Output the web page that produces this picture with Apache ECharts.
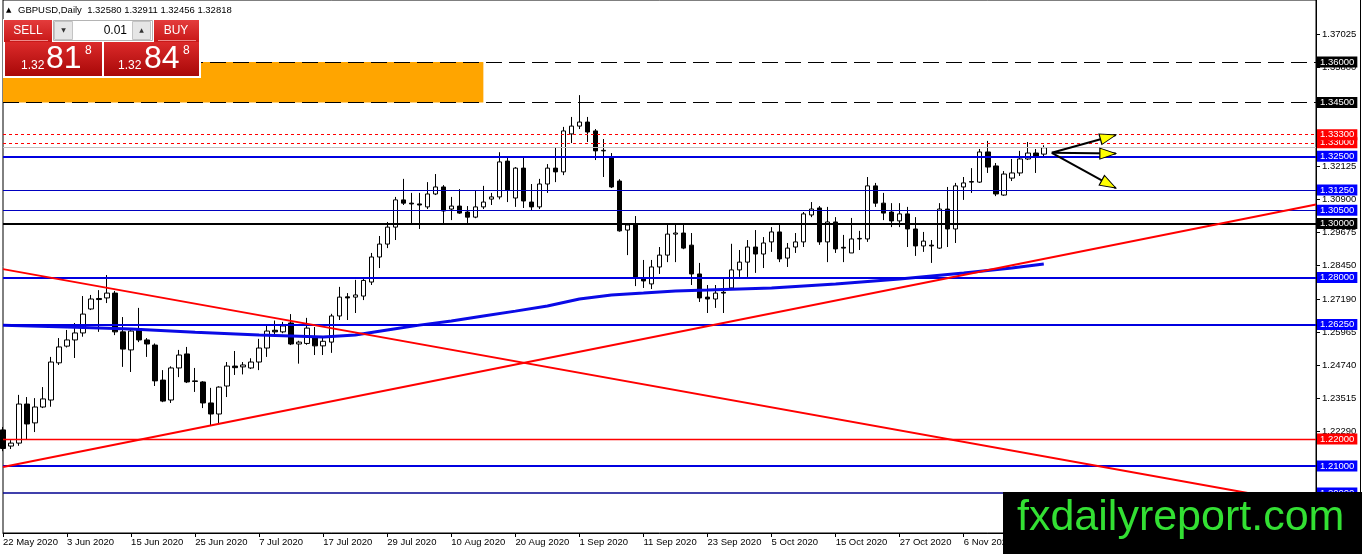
<!DOCTYPE html>
<html>
<head>
<meta charset="utf-8">
<script src="https://cdn.jsdelivr.net/npm/echarts@6/dist/echarts.min.js"></script>
<style>
html, body { margin: 0; padding: 0; background: #fff; }
#main { width: 1362px; height: 554px; }
</style>
</head>
<body>
<div id="main"></div>
<script>
// daily bars, 22 May 2020 .. 20 Nov 2020
var opens = [1.2234,1.2174,1.2185,1.2330,1.2260,1.2319,1.2345,1.2483,1.2545,1.2568,
  1.2594,1.2683,1.2722,1.2724,1.2742,1.2598,1.2531,1.2605,1.2568,1.2549,
  1.2419,1.2345,1.2464,1.2516,1.2416,1.2412,1.2334,1.2293,1.2397,1.2471,
  1.2468,1.2464,1.2486,1.2538,1.2604,1.2598,1.2631,1.2553,1.2555,1.2575,
  1.2546,1.2560,1.2657,1.2728,1.2727,1.2731,1.2783,1.2876,1.2924,1.2987,
  1.3088,1.3076,1.3073,1.3062,1.3110,1.3136,1.3054,1.3065,1.3043,1.3024,
  1.3062,1.3091,1.3099,1.3232,1.3095,1.3206,1.3080,1.3062,1.3147,1.3206,
  1.3192,1.3333,1.3362,1.3377,1.3344,1.3270,1.3247,1.3158,1.2976,1.2998,
  1.2798,1.2776,1.2839,1.2883,1.2961,1.2965,1.2920,1.2813,1.2727,1.2720,
  1.2745,1.2761,1.2828,1.2857,1.2913,1.2887,1.2932,1.2969,1.2872,1.2913,
  1.2932,1.3032,1.3058,1.2932,1.3006,1.2912,1.2891,1.2943,1.2943,1.3140,
  1.3076,1.3043,1.3010,1.3036,1.2980,1.2917,1.2920,1.2909,1.3054,1.2980,
  1.3136,1.3156,1.3154,1.3266,1.3214,1.3106,1.3169,1.3188,1.3240,1.3262,
  1.32580];
var highs = [1.2245,1.2196,1.2364,1.2356,1.2352,1.2393,1.2505,1.2575,1.2605,1.2631,
  1.2731,1.2735,1.2753,1.2809,1.2750,1.2653,1.2612,1.2687,1.2575,1.2555,
  1.2456,1.2470,1.2531,1.2542,1.2464,1.2415,1.2390,1.2396,1.2486,1.2527,
  1.2486,1.2500,1.2572,1.2620,1.2640,1.2635,1.2664,1.2565,1.2650,1.2616,
  1.2580,1.2665,1.2765,1.2742,1.2791,1.2795,1.2891,1.2954,1.3006,1.3099,
  1.3166,1.3114,1.3114,1.3154,1.3184,1.3143,1.3099,1.3128,1.3065,1.3121,
  1.3140,1.3114,1.3265,1.3250,1.3210,1.3247,1.3147,1.3166,1.3221,1.3281,
  1.3359,1.3396,1.3477,1.3396,1.3351,1.3314,1.3262,1.3165,1.3002,1.3028,
  1.2865,1.2865,1.2913,1.3002,1.3002,1.2995,1.2965,1.2854,1.2772,1.2772,
  1.2798,1.2925,1.2902,1.2939,1.2976,1.2950,1.2987,1.3002,1.2928,1.2965,
  1.3043,1.3080,1.3065,1.3062,1.3024,1.2958,1.3021,1.2973,1.3173,1.3151,
  1.3114,1.3076,1.3076,1.3062,1.3024,1.2969,1.2939,1.3076,1.3136,1.3151,
  1.3173,1.3206,1.3277,1.3307,1.3225,1.3195,1.3240,1.3270,1.3303,1.3277,
  1.32911];
var lows = [1.2155,1.2163,1.2175,1.2197,1.2226,1.2315,1.2320,1.2475,1.2540,1.2501,
  1.2580,1.2679,1.2598,1.2705,1.2586,1.2468,1.2449,1.2560,1.2505,1.2397,
  1.2337,1.2334,1.2430,1.2408,1.2375,1.2315,1.2252,1.2256,1.2356,1.2438,
  1.2440,1.2460,1.2456,1.2505,1.2585,1.2593,1.2549,1.2480,1.2550,1.2512,
  1.2512,1.2520,1.2642,1.2642,1.2668,1.2716,1.2772,1.2835,1.2909,1.2939,
  1.3069,1.3002,1.2980,1.3054,1.3106,1.3002,1.3013,1.3036,1.3002,1.3020,
  1.3054,1.3069,1.3090,1.3080,1.3062,1.3058,1.3050,1.3054,1.3114,1.3154,
  1.3180,1.3299,1.3351,1.3303,1.3236,1.3173,1.3132,1.2970,1.2883,1.2768,
  1.2761,1.2757,1.2813,1.2857,1.2857,1.2905,1.2772,1.2709,1.2668,1.2687,
  1.2668,1.2757,1.2802,1.2802,1.2817,1.2835,1.2895,1.2857,1.2839,1.2891,
  1.2913,1.3024,1.2921,1.2857,1.2891,1.2857,1.2891,1.2902,1.2932,1.3062,
  1.3013,1.2987,1.2987,1.2913,1.2880,1.2895,1.2854,1.2906,1.2913,1.2928,
  1.3088,1.3114,1.3151,1.3188,1.3102,1.3103,1.3158,1.3177,1.3236,1.3188,
  1.32456];
var closes = [1.2165,1.2185,1.2330,1.2256,1.2319,1.2349,1.2486,1.2542,1.2568,1.2594,
  1.2664,1.2720,1.2718,1.2742,1.2598,1.2534,1.2601,1.2568,1.2553,1.2416,
  1.2341,1.2464,1.2512,1.2412,1.2414,1.2334,1.2293,1.2393,1.2471,1.2465,
  1.2475,1.2486,1.2538,1.2601,1.2598,1.2620,1.2553,1.2560,1.2612,1.2546,
  1.2563,1.2657,1.2727,1.2724,1.2735,1.2789,1.2876,1.2924,1.2987,1.3088,
  1.3076,1.3073,1.3069,1.3110,1.3136,1.3047,1.3065,1.3039,1.3024,1.3062,
  1.3080,1.3099,1.3229,1.3125,1.3206,1.3084,1.3062,1.3147,1.3206,1.3192,
  1.3344,1.3362,1.3377,1.3340,1.3270,1.3272,1.3136,1.2973,1.2995,1.2802,
  1.2787,1.2839,1.2883,1.2961,1.2965,1.2909,1.2813,1.2724,1.2720,1.2742,
  1.2742,1.2828,1.2857,1.2913,1.2887,1.2928,1.2969,1.2869,1.2909,1.2932,
  1.3036,1.3054,1.2932,1.3006,1.2906,1.2909,1.2943,1.2945,1.3140,1.3076,
  1.3039,1.3010,1.3036,1.2980,1.2917,1.2935,1.2917,1.3054,1.2980,1.3140,
  1.3151,1.3154,1.3266,1.3210,1.3110,1.3184,1.3188,1.3240,1.3262,1.3251,
  1.32818];

// moving average at a few bars
var maBars   = [0, 8, 16, 24, 32, 40, 44, 48, 52, 56, 60, 64, 68, 72, 76, 80, 84, 88, 96, 104, 112, 120, 126, 130];
var maValues = [1.2623, 1.2616, 1.2609, 1.2597, 1.2586, 1.2579, 1.2586, 1.2605, 1.2623, 1.2638, 1.2657, 1.2675,
  1.2694, 1.2720, 1.2735, 1.2742, 1.2750, 1.2753, 1.2761, 1.2776, 1.2794, 1.2817, 1.2835, 1.2850];

// price scale ticks
var yTicks = [1.37025, 1.35800, 1.34575, 1.33350, 1.32125, 1.30900, 1.29675, 1.28450,
  1.27190, 1.25965, 1.24740, 1.23515, 1.22290, 1.21065, 1.19840];

// horizontal levels
var dashedLevels = [1.3600, 1.3450];
var dottedLevels = [1.3300, 1.3330];
var blackLevels = [1.3000];
var redLevels = [1.2200];
var thickBlueLevels = [1.3250, 1.2800, 1.2625, 1.2100];
var thinBlueLevels = [1.3125, 1.3050];
var navyLevels = [1.2000];

// trend lines: [bar, price] pairs
var trendDown = [[0, 1.2831], [164, 1.1954]];
var trendUp = [[0, 1.2096], [164, 1.3071]];

// supply zone [bar, price] corners
var zone = [[0, 1.3600], [60, 1.3450]];

// projection arrows
var arrowFrom = [131, 1.3263];
var arrowTips = [[139, 1.3329], [139, 1.3260], [139, 1.3132]];

var spread = 0.00030;

var months = ['Jan','Feb','Mar','Apr','May','Jun','Jul','Aug','Sep','Oct','Nov','Dec'];
var categories = [];
var d = new Date(Date.UTC(2020, 4, 22));
while (categories.length < 165) {
  var wd = d.getUTCDay();
  if (wd !== 0 && wd !== 6) {
    categories.push(d.getUTCDate() + ' ' + months[d.getUTCMonth()] + ' ' + d.getUTCFullYear());
  }
  d.setUTCDate(d.getUTCDate() + 1);
}

var candles = opens.map(function (o, i) { return [o, closes[i], lows[i], highs[i]]; });
var maData = maBars.map(function (b, i) { return [b, maValues[i]]; });

var FONT = 'Liberation Sans';
var last = opens.length - 1;
var bid = closes[last];

function lvl(v, color, width, type, bg) {
  return {
    yAxis: v,
    lineStyle: { color: color, width: width, type: type },
    label: bg ? { show: true, backgroundColor: bg } : { show: false }
  };
}
function seg(a, b, color, width) {
  var st = { color: color, width: width, type: 'solid' };
  return [
    { coord: a, lineStyle: st, label: { show: false } },
    { coord: b, lineStyle: st, label: { show: false } }
  ];
}

var levelData = [lvl(bid, '#c0c0c0', 1, 'solid', null)];
thinBlueLevels.forEach(function (v) { levelData.push(lvl(v, '#0000c0', 1.2, 'solid', '#0000ff')); });
dottedLevels.forEach(function (v) { levelData.push(lvl(v, '#ff0000', 1, [3, 3], '#ff0000')); });
dashedLevels.forEach(function (v) { levelData.push(lvl(v, '#000000', 1, [16, 7], '#000000')); });
blackLevels.forEach(function (v) { levelData.push(lvl(v, '#000000', 2, 'solid', '#000000')); });
redLevels.forEach(function (v) { levelData.push(lvl(v, '#ff0000', 1.4, 'solid', '#ff0000')); });
navyLevels.forEach(function (v) { levelData.push(lvl(v, '#000090', 1.6, 'solid', '#0000ff')); });
thickBlueLevels.forEach(function (v) { levelData.push(lvl(v, '#0000e0', 2, 'solid', '#0000ff')); });
levelData.push(seg(trendDown[0], trendDown[1], '#ff0000', 2));
levelData.push(seg(trendUp[0], trendUp[1], '#ff0000', 2));
arrowTips.forEach(function (t) { levelData.push(seg(arrowFrom, t, '#000000', 2)); });

// arrow heads: rotation (deg, ccw) and offset so the tip lands on the point
var headRot = [-74.5, -90, -118.9];
var headOff = [[-7.7, 2.1], [-8, 0], [-7.0, -3.9]];
var heads = arrowTips.map(function (t, i) {
  return { value: t, symbolRotate: headRot[i], symbolOffset: headOff[i] };
});

function priceParts(p) {
  var s = p.toFixed(5);
  return [s.slice(0, 4), s.slice(4, 6), s.slice(6)];
}
var sellP = priceParts(bid);
var buyP = priceParts(bid + spread);

function txt(x, y, s, size, opts) {
  opts = opts || {};
  return {
    type: 'text', x: x, y: y, z: 100,
    style: {
      text: s, fill: opts.fill || '#fff',
      font: (opts.bold ? 'bold ' : '') + size + 'px "' + (opts.family || FONT) + '"',
      textAlign: opts.align || 'left', textVerticalAlign: 'middle',
      align: opts.align || 'left', verticalAlign: 'middle'
    }
  };
}
function box(x, y, w, h, fill, stroke) {
  return { type: 'rect', z: 100, shape: { x: x, y: y, width: w, height: h },
    style: { fill: fill, stroke: stroke || null, lineWidth: stroke ? 1 : 0 } };
}
function grad(c1, c2) {
  return { type: 'linear', x: 0, y: 0, x2: 0, y2: 1, colorStops: [{ offset: 0, color: c1 }, { offset: 1, color: c2 }] };
}

var header = 'GBPUSD,Daily  ' + [opens[last], highs[last], lows[last], closes[last]]
  .map(function (v) { return v.toFixed(5); }).join(' ');

var chart = echarts.init(document.getElementById('main'));
chart.setOption({
  animation: false,
  backgroundColor: '#ffffff',
  grid: { left: 3, right: 46, top: 0, bottom: 21, show: true, borderColor: '#000', borderWidth: 1, backgroundColor: '#fff' },
  xAxis: {
    type: 'category',
    data: categories,
    boundaryGap: false,
    axisLine: { lineStyle: { color: '#000', width: 1 } },
    axisTick: { show: true, interval: 7, length: 4, lineStyle: { color: '#000' } },
    axisLabel: { interval: 7, align: 'left', color: '#000', fontSize: 9.5, fontFamily: FONT, margin: 4 },
    splitLine: { show: false }
  },
  yAxis: {
    type: 'value',
    position: 'right',
    min: 1.18512,
    max: 1.38302,
    axisLine: { show: true, lineStyle: { color: '#000' } },
    axisTick: { show: true, length: 4, customValues: yTicks, lineStyle: { color: '#000' } },
    axisLabel: {
      customValues: yTicks, color: '#000', fontSize: 9.5, fontFamily: FONT, margin: 6,
      formatter: function (v) { return v.toFixed(5); }
    },
    splitLine: { show: false }
  },
  series: [
    {
      name: 'zone', type: 'line', data: [], z: 1, silent: true,
      markArea: {
        silent: true,
        itemStyle: { color: '#ffa500' },
        data: [[{ coord: zone[0] }, { coord: zone[1] }]]
      }
    },
    {
      name: 'GBPUSD', type: 'candlestick', data: candles, z: 2,
      barWidth: 5,
      itemStyle: {
        color: '#ffffff', color0: '#000000',
        borderColor: '#000000', borderColor0: '#000000', borderColorDoji: '#000000', borderWidth: 1
      }
    },
    {
      name: 'levels', type: 'line', data: [], z: 3, silent: true,
      markLine: {
        silent: true,
        symbol: ['none', 'none'],
        precision: 5,
        emphasis: { disabled: true },
        label: {
          show: true, position: 'end', distance: 1, color: '#fff',
          fontSize: 9.5, fontFamily: FONT, padding: [1, 3, 0, 3],
          formatter: function (p) { return Number(p.value).toFixed(5); }
        },
        data: levelData
      }
    },
    {
      name: 'MA', type: 'line', data: maData, z: 4,
      showSymbol: false, symbol: 'none', silent: true,
      lineStyle: { color: '#0a0ae6', width: 3 }
    },
    {
      name: 'arrows', type: 'scatter', data: heads, z: 6, silent: true,
      symbol: 'triangle', symbolSize: [11, 16],
      itemStyle: { color: '#ffff00', borderColor: '#000', borderWidth: 1, opacity: 1 }
    }
  ],
  graphic: {
    elements: [
      txt(6, 10, '\u25B2', 7, { fill: '#000', family: 'DejaVu Sans' }),
      txt(18, 10, header, 9.5, { fill: '#000' }),
      box(3, 19, 198, 59, '#ffffff'),
      box(4, 20, 48, 22, grad('#e43c3c', '#c81818')),
      txt(28, 31, 'SELL', 12, { align: 'center' }),
      box(10, 40, 38, 1, '#ee8a8a'),
      box(53.5, 20.5, 99, 20, '#ffffff', '#b4b4b4'),
      box(54.5, 21.5, 18, 18, '#e6e6e6', '#c4c4c4'),
      box(132.5, 21.5, 18, 18, '#e6e6e6', '#c4c4c4'),
      txt(63.5, 30.5, '\u25BC', 6, { fill: '#333', align: 'center', family: 'DejaVu Sans' }),
      txt(141.5, 30.5, '\u25B2', 6, { fill: '#333', align: 'center', family: 'DejaVu Sans' }),
      txt(127, 30.5, '0.01', 12, { fill: '#000', align: 'right' }),
      box(154, 20, 45, 22, grad('#e43c3c', '#c81818')),
      txt(176, 31, 'BUY', 12, { align: 'center' }),
      box(158, 40, 38, 1, '#ee8a8a'),
      box(5, 42, 97, 34, grad('#dc2a2a', '#a80808')),
      box(104, 42, 95, 34, grad('#dc2a2a', '#a80808')),
      txt(21, 66, sellP[0], 12),
      txt(46, 59, sellP[1], 32),
      txt(85, 51, sellP[2], 12),
      txt(118, 66, buyP[0], 12),
      txt(144, 59, buyP[1], 32),
      txt(183, 51, buyP[2], 12),
      { type: 'line', z: 100, shape: { x1: 1360.5, y1: 0, x2: 1360.5, y2: 492 }, style: { stroke: '#000', lineWidth: 1 } },
      box(1003, 492, 359, 62, '#000000'),
      txt(1017, 518, 'fxdailyreport.com', 43, { fill: '#33e033' })
    ]
  }
});
</script>
</body>
</html>
